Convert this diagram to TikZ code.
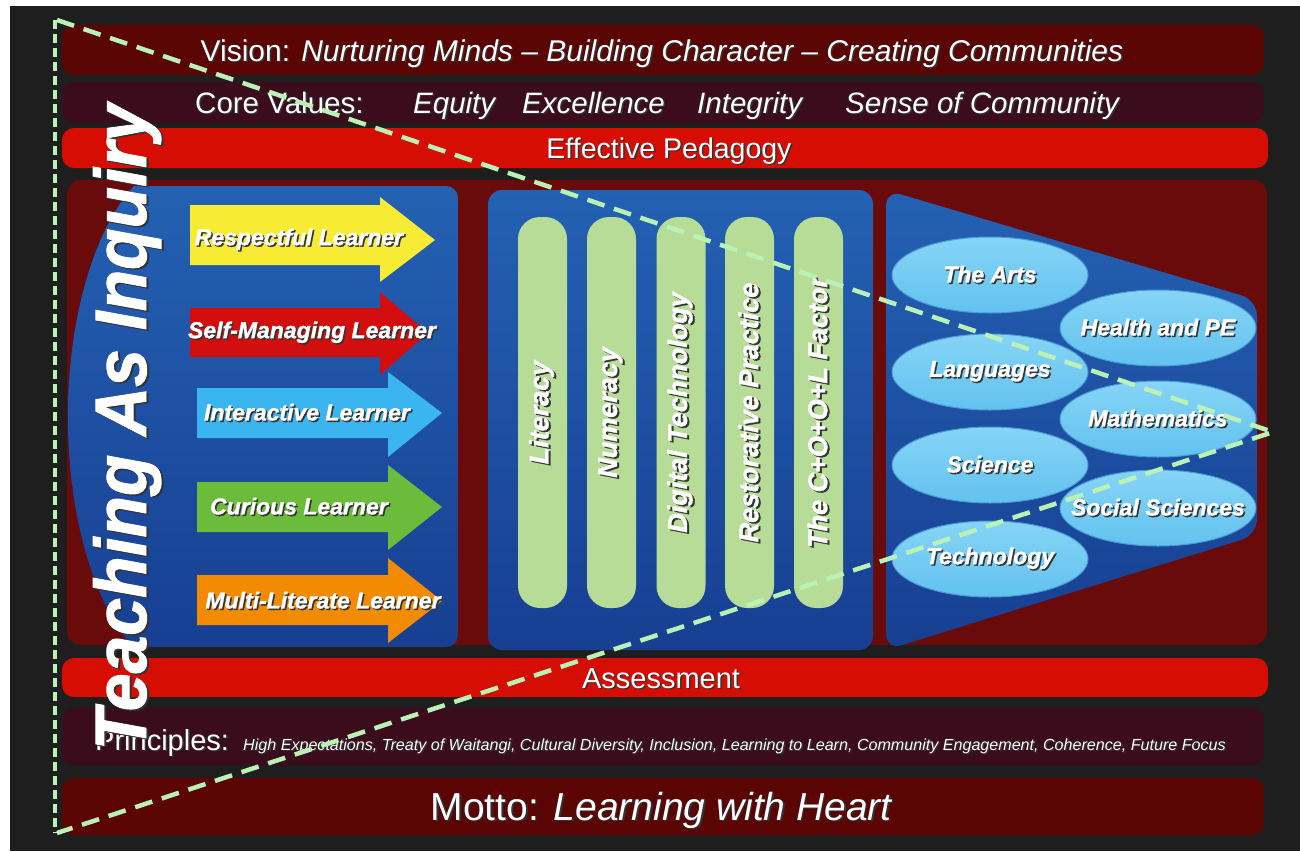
\documentclass[tikz,border=0pt]{standalone}
\usepackage{fontspec}
\setmainfont{Liberation Sans}
\newfontfamily\heavyfont[FakeBold=1.3]{Liberation Sans}
\usetikzlibrary{shapes.geometric}
\definecolor{bgdark}{HTML}{1E1E1E}
\definecolor{visionred}{HTML}{5A0404}
\definecolor{coremaroon}{HTML}{3A0C1C}
\definecolor{brightred}{HTML}{D50D02}
\definecolor{panelred}{HTML}{690B0B}
\definecolor{blueTop}{HTML}{2461B3}
\definecolor{blueBot}{HTML}{173F92}
\definecolor{pillgreen}{HTML}{B6DC98}
\definecolor{ellTop}{HTML}{86D4F6}
\definecolor{ellBot}{HTML}{62C2EF}
\definecolor{ellEdge}{HTML}{4A9BD3}
\definecolor{arrYellow}{HTML}{F7EC33}
\definecolor{arrRed}{HTML}{D20E0E}
\definecolor{arrBlue}{HTML}{3BB5EF}
\definecolor{arrGreen}{HTML}{6CBC3B}
\definecolor{arrOrange}{HTML}{F28B02}
\definecolor{dashgreen}{HTML}{BAF2B5}
\newcommand\shd[1]{\makebox[0pt][l]{\hspace{1.5pt}\raisebox{-1.5pt}{\textcolor{black!80}{#1}}}#1}
\newcommand\shdr[1]{\makebox[0pt][l]{\hspace{-1.5pt}\raisebox{-2pt}{\textcolor{black!80}{#1}}}#1}
\tikzset{
  bandtxt/.style={text=white, inner sep=0pt, anchor=base},
  arrtxt/.style={text=white, inner sep=0pt, font=\heavyfont\fontsize{23}{23}\selectfont\bfseries\itshape},
  pillbox/.style={rotate=90, fill=pillgreen, rounded corners=22pt, minimum width=391pt, minimum height=49pt, inner sep=0pt, text=white, font=\heavyfont\fontsize{27}{27}\selectfont\bfseries\itshape},
  subj/.style={ellipse, minimum width=196pt, minimum height=76pt, inner sep=0pt, top color=ellTop, bottom color=ellBot, draw=ellEdge, line width=1pt, text=white, font=\heavyfont\fontsize{23}{23}\selectfont\bfseries\itshape},
  dashv/.style={draw=dashgreen, line width=4pt, dash pattern=on 9pt off 5pt},
  dashd/.style={draw=dashgreen, line width=4.5pt, dash pattern=on 18pt off 10pt},
  bluefill/.style={top color=blueTop, bottom color=blueBot}
}
\begin{document}
\begin{tikzpicture}[x=1pt,y=-1pt]
\useasboundingbox (0,0) rectangle (1300,851);
\fill[white] (0,0) rectangle (1300,851);
\fill[bgdark] (10,6) rectangle (1300,851);
% bands
\fill[visionred, rounded corners=12pt] (62,25) rectangle (1264,75);
\fill[coremaroon, rounded corners=12pt] (62,82) rectangle (1264,123);
\fill[brightred, rounded corners=12pt] (62,128) rectangle (1268,168);
\fill[panelred, rounded corners=14pt] (67,180) rectangle (1267,645);
\fill[brightred, rounded corners=12pt] (62,658) rectangle (1268,697);
\fill[coremaroon, rounded corners=12pt] (62,708) rectangle (1264,765);
\fill[visionred, rounded corners=12pt] (62,778) rectangle (1264,835);
% blue panels
\shade[bluefill] (133,186) -- (446,186) arc[start angle=-90, end angle=0, radius=12] -- (458,635) arc[start angle=0, end angle=90, radius=12] -- (133,647) arc[start angle=117.8, end angle=242.2, x radius=122, y radius=260] -- cycle;
\shade[bluefill, rounded corners=14pt] (488,190) rectangle (873,650);
\shade[bluefill, rounded corners=16pt] (886,190) -- (1257,300) -- (1257,535) -- (886,650) -- cycle;
% arrows
\fill[arrYellow] (190,205) -- (380,205) -- (380,197) -- (435,240) -- (380,282) -- (380,265) -- (190,265) -- cycle;
\fill[arrRed] (190,308) -- (380,308) -- (380,292) -- (428,333) -- (380,375) -- (380,357) -- (190,357) -- cycle;
\fill[arrBlue] (197,388) -- (388,388) -- (388,372) -- (442,413) -- (388,457) -- (388,438) -- (197,438) -- cycle;
\fill[arrGreen] (197,482) -- (388,482) -- (388,465) -- (442,507) -- (388,550) -- (388,532) -- (197,532) -- cycle;
\fill[arrOrange] (197,575) -- (388,575) -- (388,558) -- (442,601) -- (388,643) -- (388,625) -- (197,625) -- cycle;
\node[arrtxt] (l1) at (299,240) {\shd{Respectful Learner}};
\node[arrtxt] (l2) at (312,333) {\shd{Self-Managing Learner}};
\node[arrtxt] (l3) at (307,413) {\shd{Interactive Learner}};
\node[arrtxt] (l4) at (299,507) {\shd{Curious Learner}};
\node[arrtxt] (l5) at (323,601) {\shd{Multi-Literate Learner}};
% pills
\node[pillbox] (p1) at (542.5,412.5) {\shdr{Literacy}};
\node[pillbox] (p2) at (611.5,412.5) {\shdr{Numeracy}};
\node[pillbox] (p3) at (681,412.5) {\shdr{Digital Technology}};
\node[pillbox] (p4) at (749.5,412.5) {\shdr{Restorative Practice}};
\node[pillbox] (p5) at (818.5,412.5) {\shdr{The C+O+O+L Factor}};
% subjects
\node[subj] (s1) at (990,275) {\makebox[0pt]{\shd{The Arts}}};
\node[subj] (s2) at (1158,328) {\makebox[0pt]{\shd{Health and PE}}};
\node[subj] (s3) at (990,372) {\makebox[0pt]{\shd{Languages}}};
\node[subj] (s4) at (1158,419) {\makebox[0pt]{\shd{Mathematics}}};
\node[subj] (s5) at (990,465) {\makebox[0pt]{\shd{Science}}};
\node[subj] (s6) at (1158,508) {\makebox[0pt]{\shd{Social Sciences}}};
\node[subj] (s7) at (990,559) {\makebox[0pt]{\shd{Technology}}};
% band texts
\node[bandtxt, font=\fontsize{30}{30}\selectfont] (vision) at (662,61) {\shd{Vision: \textit{Nurturing Minds – Building Character – Creating Communities}}};
\node[bandtxt, anchor=base west, font=\fontsize{29.5}{29.5}\selectfont] (core) at (195,113) {\shd{Core Values:}};
\node[bandtxt, anchor=base west, font=\fontsize{29.5}{29.5}\selectfont\itshape] (v1) at (413,113) {\shd{Equity}};
\node[bandtxt, anchor=base west, font=\fontsize{29.5}{29.5}\selectfont\itshape] (v2) at (522,113) {\shd{Excellence}};
\node[bandtxt, anchor=base west, font=\fontsize{29.5}{29.5}\selectfont\itshape] (v3) at (697,113) {\shd{Integrity}};
\node[bandtxt, anchor=base west, font=\fontsize{29.5}{29.5}\selectfont\itshape] (v4) at (845,113) {\shd{Sense of Community}};
\node[bandtxt, font=\fontsize{28.5}{28.5}\selectfont] (peda) at (669,158) {\shd{Effective Pedagogy}};
\node[bandtxt, font=\fontsize{29}{29}\selectfont] (assess) at (661,688) {\shd{Assessment}};
\node[bandtxt, anchor=base west, font=\fontsize{29}{29}\selectfont] (princ) at (95,750) {\shd{Principles:}};
\node[bandtxt, anchor=base west, font=\fontsize{16.1}{16.1}\selectfont\itshape] (plist) at (243,750) {\shd{High Expectations, Treaty of Waitangi, Cultural Diversity, Inclusion, Learning to Learn, Community Engagement, Coherence, Future Focus}};
\node[bandtxt, font=\fontsize{39}{39}\selectfont] (motto) at (662,820) {\shd{Motto: \textit{Learning with Heart}}};
% big vertical title
\node[rotate=90, anchor=base, inner sep=0pt, text=white, font=\heavyfont\fontsize{73}{73}\selectfont\bfseries\itshape] (tai) at (146,427) {\scalebox{0.93}[1]{\shdr{Teaching As Inquiry}}};
% dashed triangle
\coordinate (tA) at (57,20);
\coordinate (tB) at (1273,432);
\coordinate (tC) at (57,833);
\draw[dashv] (55,20) -- (55,833);
\draw[dashd] (tA) -- (tB) -- (tC);
\end{tikzpicture}
\end{document}
